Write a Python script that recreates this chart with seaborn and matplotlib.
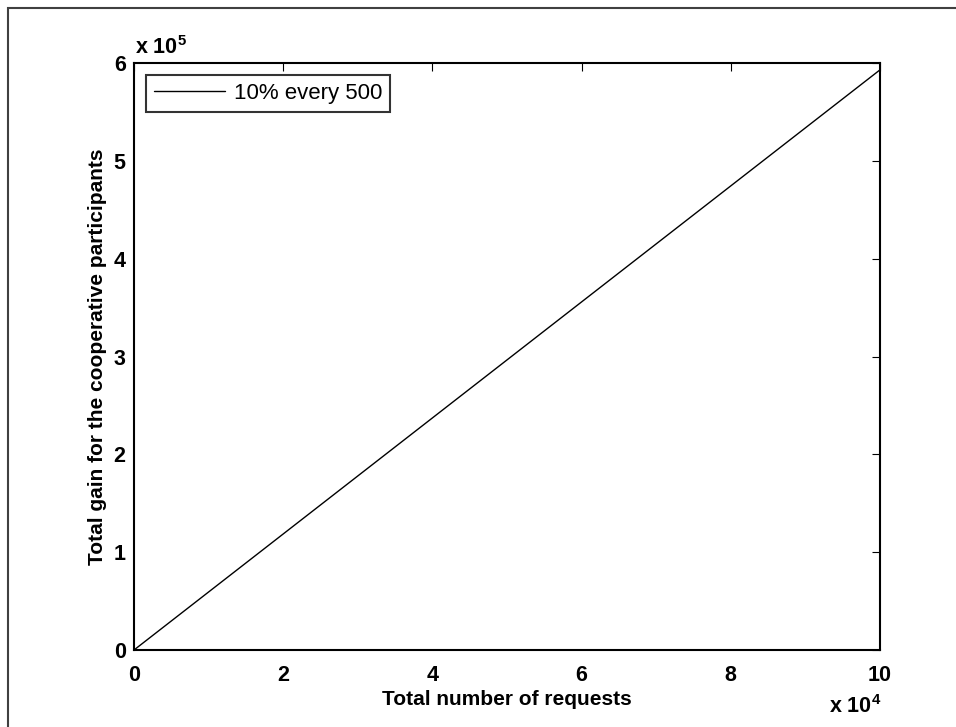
import numpy as np
import pandas as pd
import matplotlib
matplotlib.use("Agg")
import matplotlib.pyplot as plt
import seaborn as sns
from matplotlib.patches import Rectangle

# Values (straight line from the origin)
requests = [0, 20000, 40000, 60000, 80000, 100000]
gain = [0, 118600, 237200, 355800, 474400, 593000]
series_label = "10% every 500"

xticks = [0, 20000, 40000, 60000, 80000, 100000]
xtick_labels = ["0", "2", "4", "6", "8", "10"]
yticks = [0, 100000, 200000, 300000, 400000, 500000, 600000]
ytick_labels = ["0", "1", "2", "3", "4", "5", "6"]

df = pd.DataFrame({"requests": requests, "gain": gain, "series": series_label})

sns.set_style("white")
plt.rcParams["font.family"] = ["Liberation Sans", "DejaVu Sans"]
plt.rcParams["text.color"] = "black"
plt.rcParams["axes.labelcolor"] = "black"
plt.rcParams["xtick.color"] = "black"
plt.rcParams["ytick.color"] = "black"
plt.rcParams["mathtext.fontset"] = "custom"
plt.rcParams["mathtext.bf"] = "Liberation Sans:bold"
plt.rcParams["mathtext.rm"] = "Liberation Sans:bold"

fig = plt.figure(figsize=(9.56, 7.27), dpi=100)
ax = fig.add_axes([134 / 956, 77 / 727, 746 / 956, 587 / 727])

sns.lineplot(data=df, x="requests", y="gain", hue="series", palette=["black"],
             linewidth=1.0, ax=ax)

ax.set_xlim(0, 100000)
ax.set_ylim(0, 600000)
ax.set_xticks(xticks)
ax.set_xticklabels(xtick_labels, fontsize=15.5, fontweight="bold")
ax.set_yticks(yticks)
ax.set_yticklabels(ytick_labels, fontsize=15.5, fontweight="bold")
ax.tick_params(direction="in", length=6, width=0.8, top=True, right=True,
               color="black")
ax.tick_params(axis="x", pad=11)
ax.tick_params(axis="y", pad=6)

for s in ax.spines.values():
    s.set_visible(True)
    s.set_color("black")
    s.set_linewidth(1.5)

ax.set_xlabel("Total number of requests", fontsize=15, fontweight="bold", labelpad=3)
ax.set_ylabel("Total gain for the cooperative participants", fontsize=15,
              fontweight="bold", labelpad=5)

# MATLAB-style exponent labels
fig.text(135 / 956, 1 - 48 / 727, r"x 10$^{\mathbf{5}}$", fontsize=15.5, fontweight="bold",
         va="center", ha="left")
fig.text(829 / 956, 1 - 707 / 727, r"x 10$^{\mathbf{4}}$", fontsize=15.5, fontweight="bold",
         va="center", ha="left")

leg = ax.legend(loc="upper left", fontsize=16, frameon=True, fancybox=False,
                handlelength=3.2, borderpad=0.35, borderaxespad=0.55, handletextpad=0.4)
leg.get_frame().set_edgecolor("black")
leg.get_frame().set_linewidth(1.5)
leg.set_title(None)

# outer frame of the original figure (cut at right and bottom)
fig.patches.append(Rectangle((8 / 956, -0.1), 1.2, 1.1 - 8 / 727, transform=fig.transFigure,
                             fill=False, edgecolor="#404040", linewidth=1.5))

fig.savefig("out.png", dpi=100)
